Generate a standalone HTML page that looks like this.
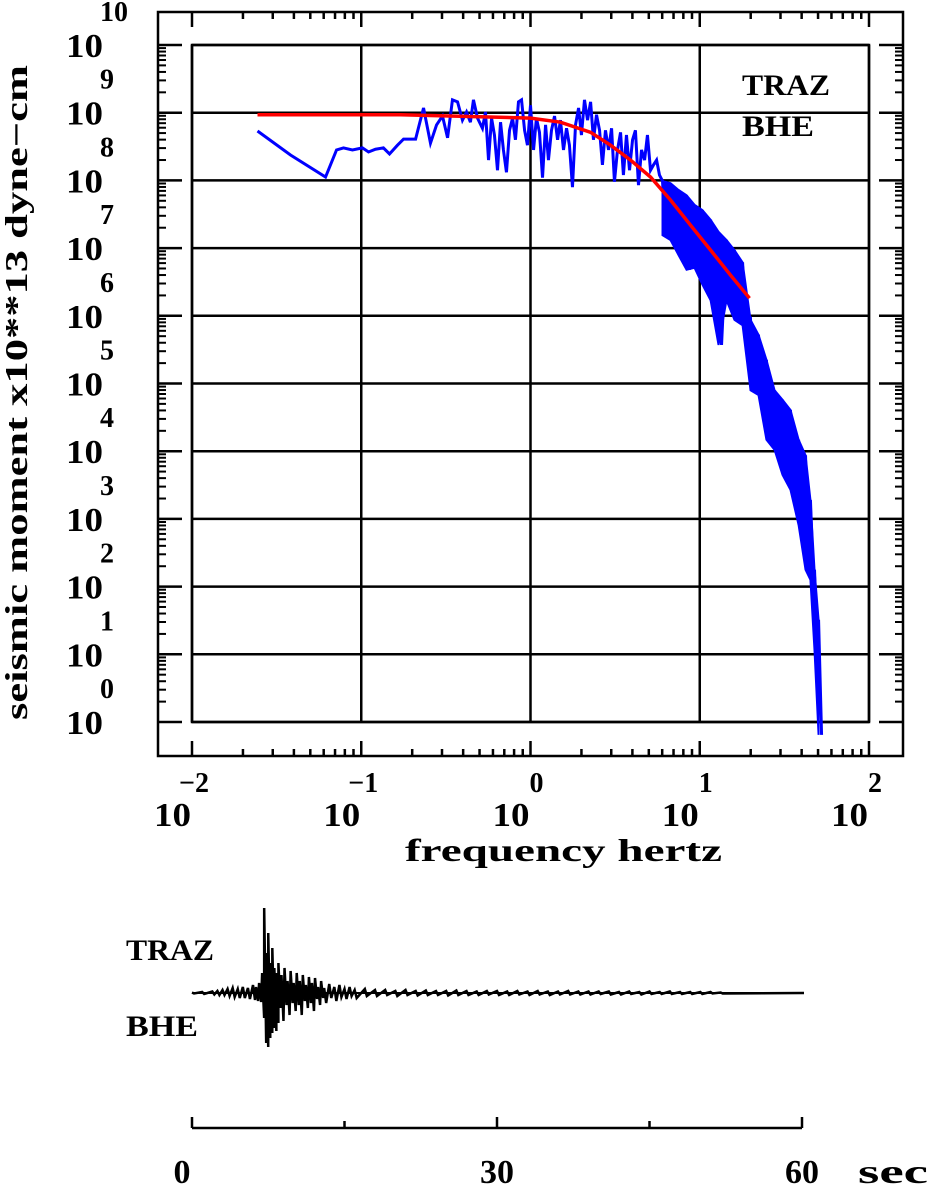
<!DOCTYPE html>
<html><head><meta charset="utf-8"><style>
html,body{margin:0;padding:0;background:#fff;}
svg{display:block;}
.num{font-family:"Liberation Serif",serif;font-weight:bold;fill:#000;}
.lab{font-family:"Liberation Serif",serif;font-weight:bold;fill:#000;}
</style></head><body>
<svg id="c" width="928" height="1184" viewBox="0 0 928 1184" xmlns="http://www.w3.org/2000/svg">
<g id="grid"></g>
<g id="frames"></g>
<g id="ticks"></g>
<g id="series"></g>
<g id="labels"></g>
<text class="lab" x="742" y="95" font-size="30" textLength="88" lengthAdjust="spacingAndGlyphs">TRAZ</text>
<text class="lab" x="742" y="136" font-size="30" textLength="72" lengthAdjust="spacingAndGlyphs">BHE</text>
<text class="num" x="405" y="861" font-size="32" textLength="317" lengthAdjust="spacingAndGlyphs">frequency  hertz</text>
<text class="num" transform="translate(27,720) rotate(-90)" font-size="32" textLength="655" lengthAdjust="spacingAndGlyphs">seismic moment x10**13 dyne−cm</text>
<text class="lab" x="126" y="960" font-size="30" textLength="88" lengthAdjust="spacingAndGlyphs">TRAZ</text>
<text class="lab" x="126" y="1036" font-size="30" textLength="72" lengthAdjust="spacingAndGlyphs">BHE</text>
<g id="trace"></g>
<g id="taxis"></g>
</svg>
<script>
// ---- spectrum data (log10 frequency Hz, log10 moment) ----
const specLogF = [-1.613,-1.418,-1.211,-1.146,-1.105,-1.052,-0.993,-0.957,-0.916,-0.869,-0.833,-0.786,-0.750,-0.679,-0.632,-0.591,-0.555,-0.520,-0.490,-0.461,-0.431,-0.402,-0.378,-0.355,-0.337,-0.313,-0.284,-0.266,-0.248,-0.230,-0.213,-0.195,-0.177,-0.160,-0.142,-0.124,-0.106,-0.089,-0.071,-0.053,-0.035,-0.018,0,0.018,0.035,0.053,0.071,0.089,0.106,0.124,0.142,0.160,0.177,0.195,0.213,0.230,0.248,0.266,0.284,0.301,0.319,0.337,0.355,0.372,0.390,0.408,0.425,0.443,0.461,0.479,0.496,0.514,0.532,0.549,0.567,0.585,0.603,0.620,0.638,0.656,0.674,0.691,0.709,0.727,0.745,0.762];
const specLogM = [8.73,8.375,8.05,8.45,8.48,8.45,8.48,8.42,8.46,8.48,8.39,8.52,8.61,8.61,9.07,8.55,8.82,8.95,8.63,9.19,9.16,8.89,9.01,8.86,9.19,8.92,8.77,9.01,8.30,8.92,8.67,8.15,8.86,8.45,8.12,8.74,8.92,8.60,9.16,9.19,8.74,8.52,9.11,8.45,8.92,8.71,8.04,8.82,8.30,8.74,8.95,8.60,8.89,8.45,8.77,8.52,7.90,8.82,9.07,8.67,9.19,8.89,9.16,8.60,8.97,8.74,8.23,8.74,8.45,8.77,7.98,8.45,8.71,8.08,8.67,8.15,8.60,8.74,7.93,8.45,8.30,8.67,8.15,8.23,8.30,8.08];
// high-frequency band (dense spectrum): upper & lower envelope
const bandLogF = [0.780,0.827,0.874,0.922,0.969,1.016,1.064,1.111,1.158,1.205,1.253,1.300,1.347,1.394,1.442,1.489,1.536,1.584,1.625,1.654,1.678,1.702];
const bandHi = [7.99,7.96,7.86,7.78,7.64,7.56,7.42,7.24,7.12,6.97,6.79,5.94,5.72,5.35,4.90,4.76,4.61,4.17,3.94,3.28,2.25,1.51];
const bandLo = [7.19,7.12,6.90,6.68,6.71,6.46,6.23,5.57,6.23,5.94,5.86,4.90,4.83,4.17,4.02,3.65,3.43,2.91,2.25,2.10,1.06,-0.19];
// model fit (red)
const fitLogF = [-1.613,-0.768,0,0.177,0.355,0.473,0.591,0.709,0.827,0.945,1.064,1.182,1.294];
const fitLogM = [8.97,8.97,8.92,8.86,8.71,8.52,8.30,8.05,7.71,7.34,6.97,6.60,6.26];
const xDecades = [-2,-1,0,1,2];
const yDecades = [0,1,2,3,4,5,6,7,8,9,10];
// ---- seismogram data (seconds, up amplitude, down amplitude) ----
const seisT = [0,1,2,2.5,3,3.5,4,4.5,5,5.5,6,6.3,6.6,6.9,7.1,7.3,7.5,7.7,7.9,8.1,8.3,8.5,8.8,9.1,9.4,9.7,10,10.3,10.6,10.9,11.2,11.5,11.8,12.1,12.4,12.7,13,13.5,14,14.5,15,15.5,16,17,18,19,20,21,22,23,24,25,26,27,28,29,30,31,32,33,34,35,36,37,38,39,40,41,42,43,44,45,46,47,48,49,50,51,52,60];
const seisUp = [0.5,1,1.5,2,3,4,5,4,6,5,8,6,10,20,85,40,60,30,45,25,20,30,18,25,12,22,10,20,12,18,8,16,10,15,6,12,5,9,6,8,4,6,3,4,3,3,2,3,2,2.5,2,2,2.5,2,1.5,2,2,1.5,2,1.5,2,1.5,1.5,2,1.5,1.5,1.5,1.5,1,1.5,1,1.5,1,1.5,1,1,1,1,0.5,0];
const seisDn = [0.5,1,1.5,2,2,3,4,5,5,6,7,8,9,25,50,54,45,40,35,38,30,15,28,12,22,10,18,12,22,8,15,10,18,6,12,5,10,5,8,4,6,3,5,3,3,2,3,2,2.5,2,2,2.5,2,2,2,1.5,2,2,1.5,2,1.5,2,1.5,1.5,1.5,1.5,1,1.5,1.5,1,1.5,1,1,1,1,1,1,0.5,0.5,0];
const timeTicks = [0,15,30,45,60];
const timeLabels = ["0","30","60"];

const NS="http://www.w3.org/2000/svg";
function mk(tag,attrs,parent){const e=document.createElementNS(NS,tag);for(const k in attrs)e.setAttribute(k,attrs[k]);parent.appendChild(e);return e;}
const X0=192,X1=869,Y0=722,Y1=45;
const xs=l=>X0+(l+2)/4*(X1-X0);
const ys=l=>Y0-l/10*(Y0-Y1);
const grid=document.getElementById('grid'),frames=document.getElementById('frames'),ticks=document.getElementById('ticks'),series=document.getElementById('series'),labels=document.getElementById('labels');

xDecades.forEach(d=>{const l=mk('line',{x1:xs(d),x2:xs(d),y1:Y1,y2:Y0,stroke:'#000','stroke-width':2.5},grid);

});
yDecades.forEach(d=>{const l=mk('line',{x1:X0,x2:X1,y1:ys(d),y2:ys(d),stroke:'#000','stroke-width':2.5},grid);

});
const inner=mk('rect',{x:X0,y:Y1,width:X1-X0,height:Y0-Y1,fill:'none',stroke:'#000','stroke-width':2.5},frames);


const outer=mk('rect',{x:158,y:12,width:745,height:744,fill:'none',stroke:'#000','stroke-width':2.5},frames);



xDecades.forEach((d,i)=>{
  const x=xs(d);
  mk('line',{x1:x,x2:x,y1:12,y2:27,stroke:'#000','stroke-width':2.5},ticks);
  mk('line',{x1:x,x2:x,y1:756,y2:741,stroke:'#000','stroke-width':2.5},ticks);
  if(i<xDecades.length-1){for(let m=2;m<=9;m++){const xm=xs(d+Math.log10(m));
    mk('line',{x1:xm,x2:xm,y1:12,y2:19,stroke:'#000','stroke-width':2.5},ticks);
    mk('line',{x1:xm,x2:xm,y1:756,y2:749,stroke:'#000','stroke-width':2.5},ticks);}}
  const b=mk('text',{x:x-38,y:826,'font-size':34,textLength:37,lengthAdjust:'spacingAndGlyphs',class:'num'},labels);b.textContent='10';
  
  
  const e=mk('text',{x:d<0?x+2:x+6,y:792,'font-size':28,'text-anchor':'middle',class:'num'},labels);e.textContent=d<0?'\u2212'+(-d):String(d);
  
  
});
yDecades.forEach((d,i)=>{
  const y=ys(d);
  mk('line',{x1:158,x2:182,y1:y,y2:y,stroke:'#000','stroke-width':2.5},ticks);
  mk('line',{x1:903,x2:879,y1:y,y2:y,stroke:'#000','stroke-width':2.5},ticks);
  if(i<yDecades.length-1){for(let m=2;m<=9;m++){const ym=ys(d+Math.log10(m));
    mk('line',{x1:158,x2:166,y1:ym,y2:ym,stroke:'#000','stroke-width':2},ticks);
    mk('line',{x1:903,x2:895,y1:ym,y2:ym,stroke:'#000','stroke-width':2},ticks);}}
  const b=mk('text',{x:66,y:y+12,'font-size':34,textLength:37,lengthAdjust:'spacingAndGlyphs',class:'num'},labels);b.textContent='10';
  
  
  const e=mk('text',{x:100,y:y-24,'font-size':28,'text-anchor':'start',class:'num'},labels);e.textContent=String(d);
  
  
});

let pts=specLogF.map((f,i)=>xs(f)+','+ys(specLogM[i]));
const bandFwd=bandLogF.map((f,i)=>xs(f)+','+ys(bandHi[i]));
const bandBack=bandLogF.map((f,i)=>xs(f)+','+ys(bandLo[i])).reverse();
const zig=[];bandLogF.forEach((f,i)=>{zig.push(xs(f)+','+ys(bandHi[i]));zig.push((xs(f)+3)+','+ys(bandLo[i]));});
const sp=mk('polyline',{points:pts.concat(zig).join(' '),fill:'none',stroke:'#0000ff','stroke-width':3},series);


const bp=mk('polygon',{points:bandFwd.concat(bandBack).join(' '),fill:'#0000ff',stroke:'#0000ff','stroke-width':2},series);


const fit=mk('polyline',{points:fitLogF.map((f,i)=>xs(f)+','+ys(fitLogM[i])).join(' '),fill:'none',stroke:'#ff0000','stroke-width':3.5},series);



const T0=192,T1=802,BY=993;
const ts=t=>T0+t/60*(T1-T0);
const tr=[];seisT.forEach((t,i)=>{tr.push(ts(t)+','+(BY-seisUp[i]));tr.push((ts(t)+2)+','+(BY+seisDn[i]));});
tr.push(T1+','+BY);
const trace=document.getElementById('trace');
const tl=mk('polyline',{points:tr.join(' '),fill:'none',stroke:'#000','stroke-width':2.5},trace);


const bl=mk('line',{x1:T0,x2:T1,y1:BY,y2:BY,stroke:'#000','stroke-width':2},trace);



const ta=document.getElementById('taxis');
const al=mk('line',{x1:T0,x2:T1,y1:1128,y2:1128,stroke:'#000','stroke-width':2.5},ta);


timeTicks.forEach(t=>{const major=t%30===0;mk('line',{x1:ts(t),x2:ts(t),y1:1128,y2:major?1117:1121,stroke:'#000','stroke-width':2.5},ta);});
timeLabels.forEach(s=>{const t=+s;const e=mk('text',{x:ts(t)+(t===0?-10:0),y:1183,'font-size':34,'text-anchor':'middle',class:'num'},ta);e.textContent=s;
  
  });
const sec=mk('text',{x:858,y:1183,'font-size':34,textLength:70,lengthAdjust:'spacingAndGlyphs',class:'num'},ta);sec.textContent='sec';


</script>
</body></html>
